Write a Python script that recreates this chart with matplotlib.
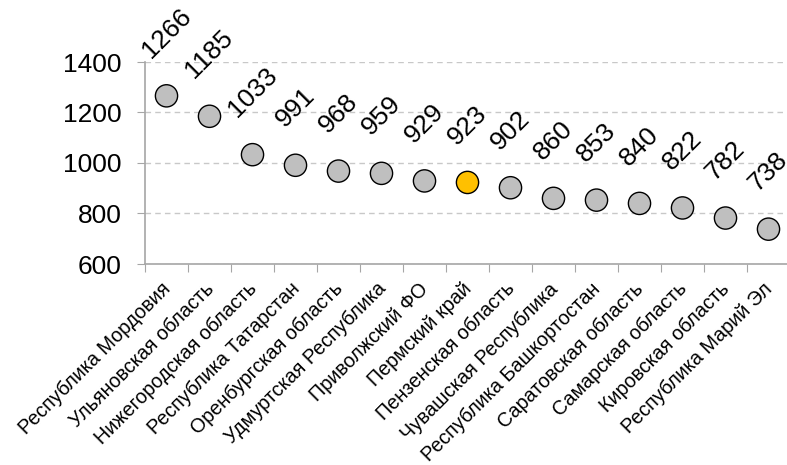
import matplotlib.pyplot as plt
from matplotlib.transforms import ScaledTranslation

plt.rcParams['font.family'] = ['Liberation Sans', 'DejaVu Sans']

regions = ['Республика Мордовия', 'Ульяновская область', 'Нижегородская область',
           'Республика Татарстан', 'Оренбургская область', 'Удмуртская Республика',
           'Приволжский ФО', 'Пермский край', 'Пензенская область',
           'Чувашская Республика', 'Республика Башкортостан', 'Саратовская область',
           'Самарская область', 'Кировская область', 'Республика Марий Эл']
values = [1266, 1185, 1033, 991, 968, 959, 929, 923, 902, 860, 853, 840, 822, 782, 738]
highlight = 'Пермский край'

fig = plt.figure(figsize=(7.87, 4.65), dpi=100)
ax = fig.add_axes([145 / 787, 1 - 264 / 465, 645 / 787, 202 / 465])

x = list(range(len(regions)))
colors = ['#FFC000' if r == highlight else '#BFBFBF' for r in regions]
ax.scatter(x, values, s=16 ** 2, c=colors, edgecolors='black', linewidths=1.0, zorder=3,
           clip_on=False)

for xi, v in zip(x, values):
    ax.annotate(str(v), (xi, v), xytext=(0, 24), textcoords='offset points',
                rotation=45, ha='center', va='bottom', fontsize=19, color='black',
                annotation_clip=False)

ax.set_xlim(-0.5, len(regions) - 0.5)
ax.set_ylim(600, 1400)
ax.set_yticks([600, 800, 1000, 1200, 1400])
ax.set_xticks([i - 0.5 for i in range(len(regions) + 1)])
ax.set_xticklabels([])
ax.set_xticks(x, minor=True)
ax.set_xticklabels(regions, minor=True, rotation=45, ha='right', rotation_mode='anchor',
                   fontsize=14.2)
ax.tick_params(axis='x', which='minor', length=0, pad=11)
ax.tick_params(axis='x', which='major', length=6, color='#A6A6A6')
ax.tick_params(axis='y', length=6, color='#A6A6A6', labelsize=19, pad=11)

# nudge category labels a little to the left
shift = ScaledTranslation(-4 / 72, 0, fig.dpi_scale_trans)
for lbl in ax.get_xticklabels(minor=True):
    lbl.set_transform(lbl.get_transform() + shift)

ax.grid(axis='y', linestyle=(0, (4, 3)), color='#C8C8C8', linewidth=1)
ax.set_axisbelow(True)
for side in ['top', 'right']:
    ax.spines[side].set_visible(False)
for side in ['left', 'bottom']:
    ax.spines[side].set_color('#A6A6A6')
    ax.spines[side].set_linewidth(1.2)

fig.savefig('out.png', dpi=100)
